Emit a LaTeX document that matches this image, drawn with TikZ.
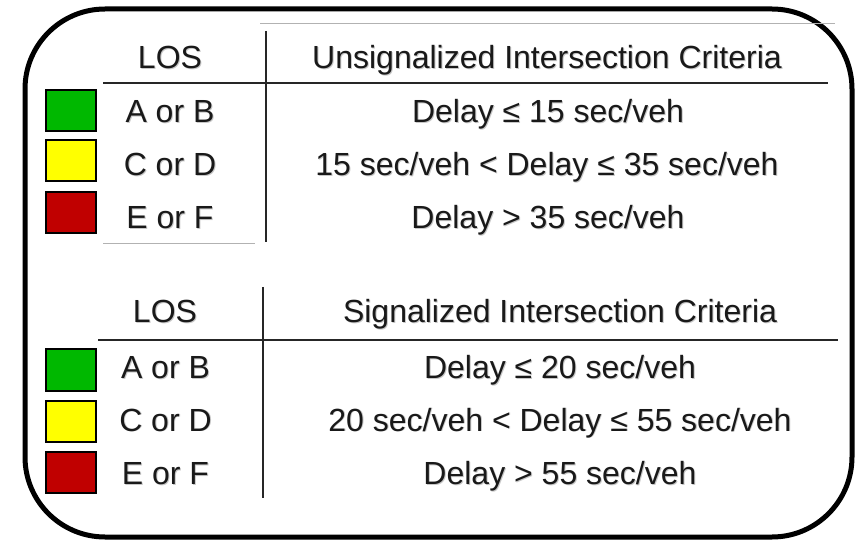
\documentclass[tikz,border=0pt]{standalone}
\usepackage{fontspec}
\setmainfont{Liberation Sans}
% text with a soft grey drop shadow behind it
\newcommand{\shtxt}[1]{\makebox[0pt][l]{\kern1pt\raisebox{-1pt}{\color{black!22}#1}}#1}
\begin{document}
\begin{tikzpicture}[x=1pt,y=-1pt,
  lbl/.style={font=\fontsize{32}{36}\selectfont, text=black!90, inner sep=0pt, anchor=base},
  swatch/.style={draw=black, line width=2pt, minimum width=50pt, minimum height=41pt, inner sep=0pt},
  rule/.style={line width=1.6pt, black!85},
  faint/.style={line width=0.8pt, black!30}]
\definecolor{losgreen}{RGB}{0,184,0}
\definecolor{losyellow}{RGB}{255,255,0}
\definecolor{losred}{RGB}{192,0,0}
\useasboundingbox (0,0) rectangle (863,540);
% outer frame
\draw[line width=5pt, rounded corners=80pt] (25,9) rectangle (852,537);

% ---- unsignalized table ----
\draw[faint] (260,23) -- (835,23);
\draw[faint] (103,243) -- (255,243);
\coordinate (uvt) at (266,31);
\coordinate (uvb) at (266,242);
\coordinate (uhl) at (103,83);
\coordinate (uhr) at (828,83);
\draw[rule] (uvt) -- (uvb);
\draw[rule] (uhl) -- (uhr);
\node[lbl] (ulos) at (170,69) {\shtxt{LOS}};
\node[lbl] (uhead) at (547,69) {\shtxt{Unsignalized Intersection Criteria}};
\node[swatch, fill=losgreen] (ug) at (70.5,111) {};
\node[swatch, fill=losyellow] (uy) at (70.5,161) {};
\node[swatch, fill=losred] (ur) at (70.5,212.5) {};
\node[lbl] (ua) at (170,123) {\shtxt{A or B}};
\node[lbl] (uc) at (170,176) {\shtxt{C or D}};
\node[lbl] (ue) at (170,229) {\shtxt{E or F}};
\node[lbl] (uda) at (548,123) {\shtxt{Delay ≤ 15 sec/veh}};
\node[lbl] (udc) at (547,176) {\shtxt{15 sec/veh < Delay ≤ 35 sec/veh}};
\node[lbl] (ude) at (548,229) {\shtxt{Delay > 35 sec/veh}};

% ---- signalized table ----
\coordinate (svt) at (263,287);
\coordinate (svb) at (263,498);
\coordinate (shl) at (98,340);
\coordinate (shr) at (838,340);
\draw[rule] (svt) -- (svb);
\draw[rule] (shl) -- (shr);
\node[lbl] (slos) at (165,323) {\shtxt{LOS}};
\node[lbl] (shead) at (560,323) {\shtxt{Signalized Intersection Criteria}};
\node[swatch, fill=losgreen] (sg) at (70.5,370) {};
\node[swatch, fill=losyellow] (sy) at (70.5,421) {};
\node[swatch, fill=losred] (sr) at (70.5,472) {};
\node[lbl] (sa) at (165.5,378) {\shtxt{A or B}};
\node[lbl] (sc) at (165.5,431) {\shtxt{C or D}};
\node[lbl] (se) at (165.5,484) {\shtxt{E or F}};
\node[lbl] (sda) at (560,378) {\shtxt{Delay ≤ 20 sec/veh}};
\node[lbl] (sdc) at (560,431) {\shtxt{20 sec/veh < Delay ≤ 55 sec/veh}};
\node[lbl] (sde) at (560,484) {\shtxt{Delay > 55 sec/veh}};
\end{tikzpicture}
\end{document}
